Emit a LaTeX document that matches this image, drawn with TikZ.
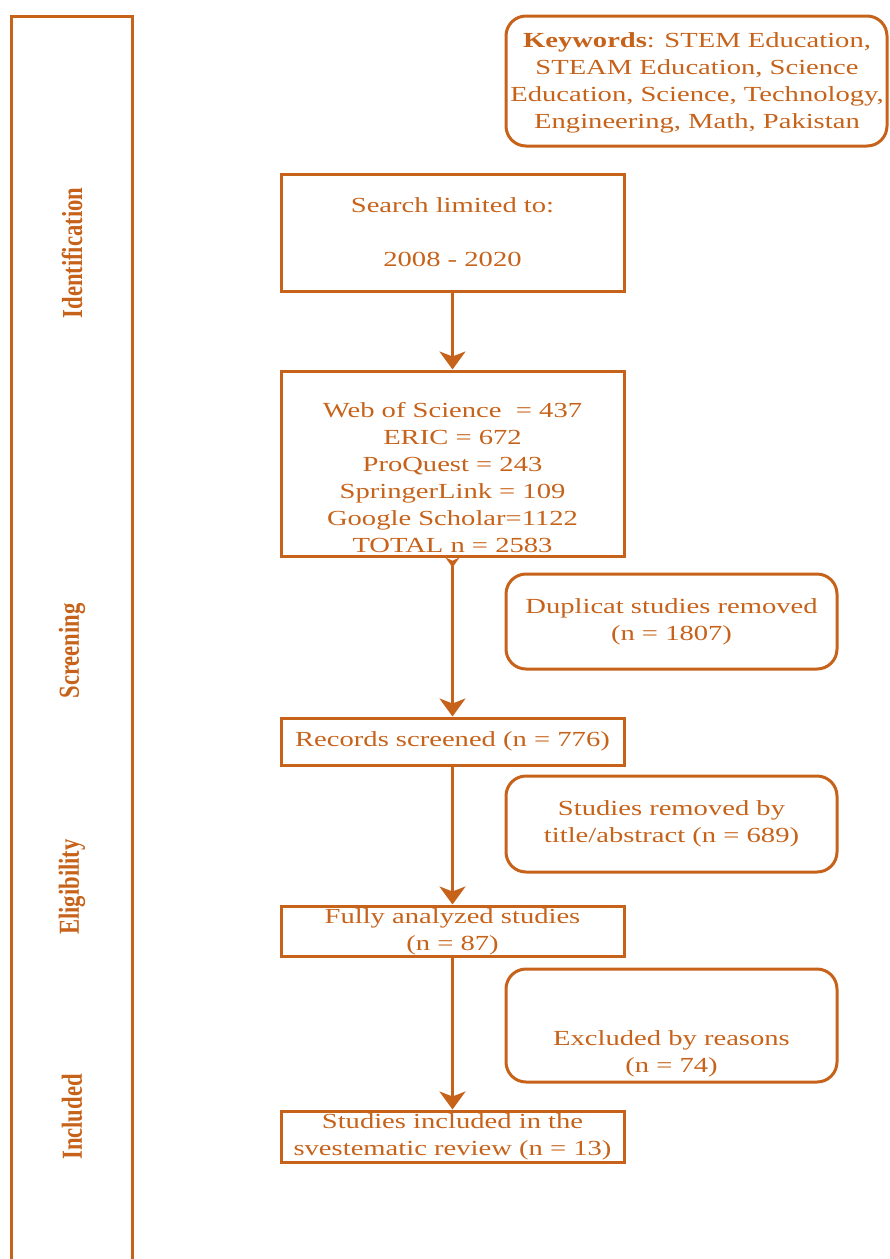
\documentclass[tikz,border=0pt]{standalone}
\usepackage{fontspec}
\setmainfont{Liberation Serif}[FakeStretch=1.33]
\newfontfamily\sidefont{Liberation Serif}[FakeStretch=0.78]
\usetikzlibrary{arrows.meta}
\definecolor{prisma}{RGB}{198,98,26}
\tikzset{
  txt/.style={text=prisma, align=center, inner sep=0pt, font=\fontsize{21.5}{27}\selectfont},
  sqbox/.style={draw=prisma, line width=3pt, minimum width=343pt, inner sep=0pt},
  rbox/.style={draw=prisma, line width=3pt, rounded corners=20pt, inner sep=0pt},
  phase/.style={text=prisma, rotate=90, inner sep=0pt, font=\sidefont\bfseries\fontsize{29}{30}\selectfont},
  flow/.style={draw=prisma, line width=3pt, -{Stealth[length=18pt,width=26pt,inset=5pt]}}
}
\begin{document}
\begin{tikzpicture}[x=1pt,y=-1pt]
\useasboundingbox (0,0) rectangle (890,1259);
% phase column
\draw[prisma, line width=3.5pt] (11.5,1259) -- (11.5,16.5) -- (132.5,16.5) -- (132.5,1259);
\node[phase] (pid) at (72,253) {Identification};
\node[phase] (psc) at (72,651) {Screening};
\node[phase] (pel) at (72,887) {Eligibility};
\node[phase] (pin) at (72,1117) {Included};
% keywords
\node[rbox, minimum width=381pt, minimum height=130pt] (kw) at (696.5,81) {};
\node[txt] (kwt) at (697,82.5) {\textbf{Keywords}: STEM Education,\\STEAM Education, Science\\Education, Science, Technology,\\Engineering, Math, Pakistan};
% main column
\node[sqbox, minimum height=117pt] (search) at (452.5,232.5) {};
\node[txt] (searcht) at (452.5,232.5) {Search limited to:\\[27pt]2008 - 2020};
\node[sqbox, minimum height=185pt] (web) at (452.5,463.5) {};
\node[txt] (webt) at (452.5,477.5) {Web of Science \ = 437\\ERIC = 672\\ProQuest = 243\\SpringerLink = 109\\Google Scholar=1122\\TOTAL n = 2583};
\node[sqbox, minimum height=47pt] (rec) at (452.5,741.5) {};
\node[txt] (rect) at (452.5,741.5) {Records screened (n = 776)};
\node[sqbox, minimum height=50pt] (full) at (452.5,931) {};
\node[txt] (fullt) at (452.5,932) {Fully analyzed studies\\(n = 87)};
\node[sqbox, minimum height=51pt] (inc) at (452.5,1136.5) {};
\node[txt] (inct) at (452.5,1137) {Studies included in the\\svestematic review (n = 13)};
% side boxes
\node[rbox, minimum width=331pt, minimum height=95pt] (dup) at (671.5,621.5) {};
\node[txt] (dupt) at (671.5,621.5) {Duplicat studies removed\\(n = 1807)};
\node[rbox, minimum width=331pt, minimum height=96pt] (rem) at (671.5,824) {};
\node[txt] (remt) at (671.5,824) {Studies removed by\\title/abstract (n = 689)};
\node[rbox, minimum width=331pt, minimum height=113pt] (exc) at (671.5,1025.5) {};
\node[txt] (exct) at (671.5,1053.5) {Excluded by reasons\\(n = 74)};
% arrows
\draw[flow] (search.south) -- (web.north);
\draw[flow, {Stealth[reversed,length=10pt,width=14pt]}-{Stealth[length=18pt,width=26pt,inset=5pt]}] (web.south) -- (rec.north);
\draw[flow] (rec.south) -- (full.north);
\draw[flow] (full.south) -- (inc.north);
\end{tikzpicture}
\end{document}
